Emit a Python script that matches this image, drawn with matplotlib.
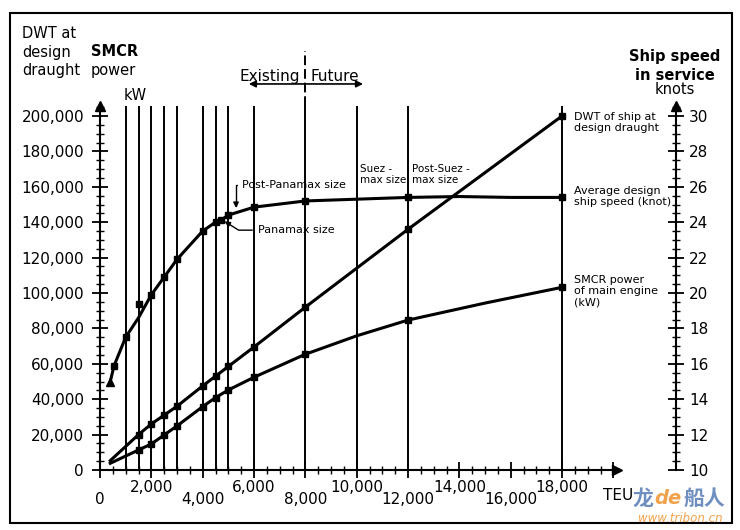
import matplotlib
matplotlib.use('Agg')
import matplotlib.pyplot as plt
from matplotlib.patches import Rectangle
from matplotlib.ticker import MultipleLocator, FuncFormatter

# ship sizes (TEU) with vertical reference lines
size_lines = [1000, 1500, 2000, 2500, 3000, 4000, 4500, 5000, 6000, 8000, 10000, 12000, 18000]

# average design ship speed (knots)
teu_speed = [400, 550, 1000, 1500, 2000, 2500, 3000, 4000, 4500, 4700, 5000, 6000, 8000, 10000, 12000, 14000, 16000, 18000]
speed = [15.0, 15.9, 17.5, 18.6, 19.9, 20.9, 21.9, 23.5, 24.0, 24.1, 24.4, 24.85, 25.2, 25.3, 25.4, 25.45, 25.4, 25.4]
speed_marks = [1, 2, 4, 5, 6, 7, 8, 9, 10, 11, 12, 14, 17]
extra_teu, extra_speed = 1500, 19.4

# DWT at design draught
teu_dwt = [400, 1500, 2000, 2500, 3000, 4000, 4500, 5000, 6000, 8000, 12000, 18000]
dwt = [5300, 20000, 26000, 31000, 36000, 47500, 53000, 58500, 69500, 92000, 136000, 200000]

# SMCR power of main engine (kW)
teu_kw = [400, 1500, 2000, 2500, 3000, 4000, 4500, 5000, 6000, 8000, 10000, 12000, 15000, 18000]
kw = [3800, 11300, 14700, 19800, 24900, 35800, 40900, 45200, 52400, 65400, 75800, 84700, 94300, 103200]
kw_marks = [1, 2, 3, 4, 5, 6, 7, 8, 9, 11, 13]

x_ticks = [0, 2000, 4000, 6000, 8000, 10000, 12000, 14000, 16000, 18000]

W, H = 740, 530
def fx(p):
    return p / W
def fy(p):
    return 1 - p / H

XMAX, YMAX = 20150, 205600
SX, SY = 0.025667, 0.00177   # px per TEU, px per DWT

fig = plt.figure(figsize=(7.4, 5.3), dpi=100)
ax = fig.add_axes([fx(100), fy(470), XMAX * SX / W, YMAX * SY / H])
ax.set_xlim(0, XMAX)
ax.set_ylim(0, YMAX)
for s in ['top', 'right']:
    ax.spines[s].set_visible(False)
for s in ['left', 'bottom']:
    ax.spines[s].set_linewidth(1.5)

ax.xaxis.set_major_locator(MultipleLocator(2000))
ax.xaxis.set_minor_locator(MultipleLocator(500))
ax.yaxis.set_major_locator(MultipleLocator(20000))
ax.yaxis.set_minor_locator(MultipleLocator(5000))
ax.yaxis.set_major_formatter(FuncFormatter(lambda v, p: '{:,.0f}'.format(v)))
ax.tick_params(axis='both', which='major', direction='inout', length=11, width=1.3)
ax.tick_params(axis='both', which='minor', direction='inout', length=6, width=1.0)
ax.tick_params(axis='x', labelbottom=False)
ax.tick_params(axis='y', labelsize=11, pad=6)

ax.plot(0, YMAX, marker='^', ms=7, color='k', clip_on=False)
ax.plot(XMAX, 0, marker='>', ms=7, color='k', clip_on=False)

for i, t in enumerate(x_ticks):
    off = -18 if i % 2 else -30
    ax.annotate('{:,}'.format(t), xy=(t, 0), xytext=(0, off), textcoords='offset pixels',
                ha='center', va='center', fontsize=11, annotation_clip=False)
ax.annotate('TEU', xy=(XMAX, 0), xytext=(1, -26), textcoords='offset pixels',
            ha='center', va='center', fontsize=11, annotation_clip=False)

# vertical reference lines
ax.vlines(size_lines, 0, YMAX, color='k', lw=1.4)
ax.plot([8000, 8000], [YMAX, 237000], color='k', lw=1.4, ls=(0, (5, 2)), clip_on=False)

# Existing / Future
ay = 218100
ax.annotate('', xy=(5800, ay), xytext=(8000, ay), annotation_clip=False,
            arrowprops=dict(arrowstyle='-|>', color='k', lw=1.2, mutation_scale=10, shrinkA=0, shrinkB=0))
ax.annotate('', xy=(10250, ay), xytext=(8000, ay), annotation_clip=False,
            arrowprops=dict(arrowstyle='-|>', color='k', lw=1.2, mutation_scale=10, shrinkA=0, shrinkB=0))
ax.text(7800, 219800, 'Existing', ha='right', va='baseline', fontsize=11)
ax.text(8200, 219800, 'Future', ha='left', va='baseline', fontsize=11)

# right axis: ship speed
ax2 = ax.twinx()
ax2.set_ylim(10, 10 + YMAX / 10000)
rpos = (676 - 100) / (XMAX * SX)
ax2.spines['right'].set_position(('axes', rpos))
ax2.spines['right'].set_linewidth(1.5)
for s in ['top', 'left', 'bottom']:
    ax2.spines[s].set_visible(False)
ax2.yaxis.set_major_locator(MultipleLocator(2))
ax2.yaxis.set_minor_locator(MultipleLocator(0.5))
ax2.tick_params(axis='y', which='major', direction='inout', length=11, width=1.3, labelsize=11, pad=4)
ax2.tick_params(axis='y', which='minor', direction='inout', length=6, width=1.0)
ax2.plot(rpos, 10 + YMAX / 10000, marker='^', ms=7, color='k', clip_on=False,
         transform=ax2.get_yaxis_transform())

# curves
ax2.plot(teu_speed, speed, color='k', lw=2.2, marker='s', ms=4.5, markevery=speed_marks, clip_on=False)
ax2.plot(teu_speed[0], speed[0], marker='^', ms=6, color='k')
ax2.plot(extra_teu, extra_speed, marker='s', ms=5, color='k')
ax.plot(teu_dwt, dwt, color='k', lw=2.2, marker='s', ms=4.5, markevery=list(range(1, len(dwt))), clip_on=False)
ax.plot(teu_kw, kw, color='k', lw=2.2, marker='s', ms=4.5, markevery=kw_marks, clip_on=False)

# annotations
ax.annotate('Post-Panamax size', xy=(5300, 148000), xytext=(5550, 161000),
            ha='left', va='center', fontsize=8,
            arrowprops=dict(arrowstyle='-|>', color='k', lw=1, mutation_scale=8,
                            connectionstyle='angle,angleA=180,angleB=90,rad=0', shrinkA=2, shrinkB=0))
ax.annotate('Panamax size', xy=(4850, 140500), xytext=(6150, 135500),
            ha='left', va='center', fontsize=8,
            arrowprops=dict(arrowstyle='-|>', color='k', lw=1, mutation_scale=8,
                            connectionstyle='angle,angleA=180,angleB=-32,rad=0', shrinkA=2, shrinkB=0))
ax.text(10130, 173000, 'Suez -\nmax size', ha='left', va='top', fontsize=7.5, linespacing=1.15)
ax.text(12150, 173000, 'Post-Suez -\nmax size', ha='left', va='top', fontsize=7.5, linespacing=1.15)

ax.text(18450, 202500, 'DWT of ship at\ndesign draught', ha='left', va='top', fontsize=8, linespacing=1.15)
ax.text(18450, 160500, 'Average design\nship speed (knot)', ha='left', va='top', fontsize=8, linespacing=1.15)
ax.text(18450, 110000, 'SMCR power\nof main engine\n(kW)', ha='left', va='top', fontsize=8, linespacing=1.15)

# headers
fig.text(fx(22), fy(33), 'DWT at', fontsize=10.5, va='center', ha='left')
fig.text(fx(22), fy(52), 'design', fontsize=10.5, va='center', ha='left')
fig.text(fx(22), fy(71), 'draught', fontsize=10.5, va='center', ha='left')
fig.text(fx(91), fy(52), 'SMCR', fontsize=10.5, va='center', ha='left', weight='bold')
fig.text(fx(91), fy(71), 'power', fontsize=10.5, va='center', ha='left')
fig.text(fx(124), fy(96), 'kW', fontsize=10.5, va='center', ha='left')
fig.text(fx(675), fy(56), 'Ship speed', fontsize=10.5, va='center', ha='center', weight='bold')
fig.text(fx(675), fy(75), 'in service', fontsize=10.5, va='center', ha='center', weight='bold')
fig.text(fx(675), fy(90), 'knots', fontsize=10.5, va='center', ha='center')

# watermark
fig.text(fx(632), fy(498), '龙', fontsize=15, va='center', ha='left', color='#6f8fc0',
         family=['Noto Sans CJK SC'], weight='bold')
fig.text(fx(654), fy(498), 'de', fontsize=14, va='center', ha='left', color='#f2a24a',
         style='italic', weight='bold')
fig.text(fx(683), fy(498), '船人', fontsize=15, va='center', ha='left', color='#6f8fc0',
         family=['Noto Sans CJK SC'], weight='bold')
fig.text(fx(680), fy(519), 'www.tribon.cn', fontsize=8.5, va='center', ha='center', color='#f2a24a',
         style='italic')

fig.patches.append(Rectangle((fx(10), fy(523)), (732 - 10) / W, (523 - 13) / H,
                             transform=fig.transFigure, fill=False, lw=1.5, color='k'))

fig.savefig('out.png', dpi=100)
